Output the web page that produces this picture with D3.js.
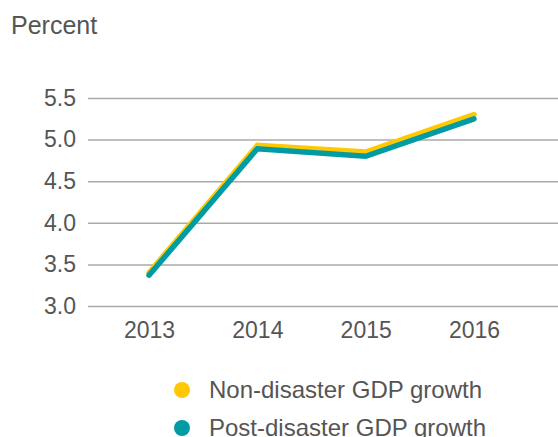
<!DOCTYPE html>
<html>
<head>
<meta charset="utf-8">
<script src="https://cdn.jsdelivr.net/npm/d3@7"></script>
<style>
  html, body { margin: 0; padding: 0; background: #fff; }
  text { font-family: "Liberation Sans", Arial, sans-serif; fill: #555; }
</style>
</head>
<body>
<div id="chart"></div>
<script>
/* chart data */
const years = ["2013", "2014", "2015", "2016"];
const nonDisaster = [3.40, 4.93, 4.85, 5.30];
const postDisaster = [3.37, 4.89, 4.80, 5.25];
const yTicks = [3.0, 3.5, 4.0, 4.5, 5.0, 5.5];
const seriesNames = ["Non-disaster GDP growth", "Post-disaster GDP growth"];

const width = 558;
const height = 437;
const yellow = "#FFC800";
const teal = "#009BA5";

const svg = d3.select("#chart")
       .append("svg")
       .attr("width", width)
       .attr("height", height);

/*scales*/
const xScale = d3.scalePoint()
       .domain(years)
       .range([149, 474]);

const yScale = d3.scaleLinear()
       .domain([3, 5.5])
       .range([306, 98]);

/*title*/
svg.append("text")
       .attr("x", 11)
       .attr("y", 34)
       .style("font-size", "25px")
       .text("Percent");

/*gridlines + y labels*/
const yAxis = d3.axisLeft(yScale)
       .tickValues(yTicks)
       .tickSize(-(width - 88))
       .tickPadding(12)
       .tickFormat(d3.format(".1f"));

const gy = svg.append("g")
       .attr("transform", "translate(88,0)")
       .call(yAxis);
gy.select(".domain").remove();
gy.selectAll("line").attr("stroke", "#aaa").attr("stroke-width", 1.5);
gy.selectAll("text")
       .attr("fill", "#555")
       .style("font-size", "23px")
       .style("font-family", "Liberation Sans, Arial, sans-serif");

/*x labels*/
const xAxis = d3.axisBottom(xScale).tickSize(0).tickPadding(0);
const gx = svg.append("g")
       .attr("transform", "translate(0,322)")
       .call(xAxis);
gx.select(".domain").remove();
gx.selectAll("text")
       .attr("fill", "#555")
       .style("font-size", "23px")
       .style("font-family", "Liberation Sans, Arial, sans-serif");

/*lines*/
const line = d3.line()
       .x((d, i) => xScale(years[i]))
       .y(d => yScale(d));

svg.append("path")
       .datum(nonDisaster)
       .attr("d", line)
       .attr("fill", "none")
       .attr("stroke", yellow)
       .attr("stroke-width", 5.5)
       .attr("stroke-linecap", "round");

svg.append("path")
       .datum(postDisaster)
       .attr("d", line)
       .attr("fill", "none")
       .attr("stroke", teal)
       .attr("stroke-width", 5.5)
       .attr("stroke-linecap", "round");

/*legend*/
const legendColors = [yellow, teal];
const legend = svg.append("g");
legend.selectAll("circle")
       .data(seriesNames)
       .enter()
       .append("circle")
       .attr("cx", 182)
       .attr("cy", (d, i) => 390 + i * 38)
       .attr("r", 8)
       .attr("fill", (d, i) => legendColors[i]);

legend.selectAll("text")
       .data(seriesNames)
       .enter()
       .append("text")
       .attr("x", 209)
       .attr("y", (d, i) => 390 + i * 38)
       .attr("dy", "0.35em")
       .style("font-size", "24px")
       .text(d => d);
</script>
</body>
</html>
